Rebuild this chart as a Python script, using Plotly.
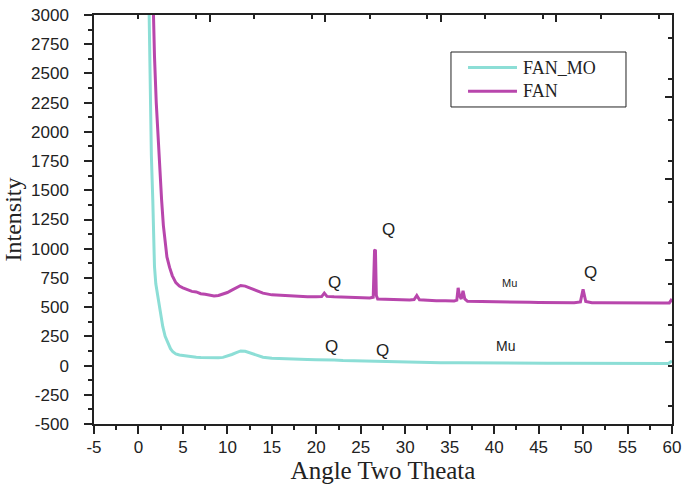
import plotly.graph_objects as go

# Diffraction pattern of FAN_MO (lower trace)
fan_mo_x = [1.1, 1.2, 1.31, 1.45, 1.61, 1.7, 1.8, 1.95, 2.1, 2.25, 2.4, 2.55, 2.73, 3.0, 3.3,
            3.6, 3.86, 4.2, 4.6, 5.0, 5.5, 6.0, 6.5, 7.0, 7.5, 8.0, 8.5, 9.0, 9.5, 10.0,
            10.5, 11.0, 11.5, 12.0, 12.5, 13.0, 13.5, 14.0, 15.0, 16.0, 17.0, 18.0, 19.0,
            20.0, 21.0, 22.0, 23.0, 24.0, 25.0, 26.0, 27.0, 28.0, 29.0, 30.0, 32.0, 34.0,
            36.0, 38.0, 40.0, 42.0, 44.0, 46.0, 48.0, 50.0, 52.0, 54.0, 56.0, 58.0, 59.6, 60.0]
fan_mo_y = [3500, 3000, 2270, 1800, 1420, 1100, 850, 700, 630, 580, 500, 410, 335, 250, 190,
            145, 118, 100, 90, 85, 80, 75, 72, 70, 68, 66, 65, 66, 70, 80,
            95, 110, 125, 122, 110, 95, 82, 72, 62, 58, 55, 54, 52,
            50, 52, 48, 44, 42, 40, 38, 36, 33, 31, 30, 27, 25,
            24, 22, 21, 20, 20, 19, 19, 18, 18, 18, 17, 17, 18, 40]

# Diffraction pattern of FAN (upper trace)
fan_x = [1.5, 1.65, 1.8, 2.0, 2.2, 2.4, 2.6, 2.8, 3.0, 3.2, 3.5, 3.8, 4.2, 4.6, 5.0, 5.5,
         6.0, 6.5, 7.0, 7.5, 8.0, 8.5, 9.0, 9.5, 10.0, 10.5, 11.0, 11.5, 12.0, 12.5,
         13.0, 13.5, 14.0, 15.0, 16.0, 17.0, 18.0, 19.0, 20.0, 20.6, 20.9, 21.2, 22.0,
         23.0, 24.0, 25.0, 26.0, 26.4, 26.55, 26.65, 26.75, 26.9, 27.5, 28.5, 29.5, 30.5,
         31.0, 31.3, 31.6, 32.5, 33.5, 34.5, 35.5, 35.8, 35.95, 36.1, 36.3, 36.5, 36.7,
         37.0, 38.0, 39.0, 40.0, 41.0, 42.0, 43.0, 44.0, 45.0, 46.0, 47.0, 48.0, 49.0,
         49.7, 50.0, 50.3, 51.0, 52.0, 53.0, 54.0, 55.0, 56.0, 57.0, 58.0, 59.0, 59.7, 60.0]
fan_y = [3600, 3000, 2650, 2250, 1950, 1700, 1420, 1200, 1030, 930, 840, 770, 710, 680, 665, 650,
         635, 630, 615, 610, 600, 595, 600, 610, 625, 645, 665, 685, 680, 665,
         645, 630, 620, 605, 600, 595, 592, 590, 588, 590, 620, 592, 588,
         585, 582, 580, 578, 585, 985, 990, 600, 570, 568, 565, 563, 562,
         565, 600, 563, 558, 555, 555, 553, 560, 665, 600, 570, 640, 570,
         550, 548, 545, 545, 545, 543, 542, 541, 540, 540, 540, 539, 538,
         545, 653, 548, 538, 537, 536, 536, 535, 535, 535, 535, 535, 536, 570]

# Phase labels: (text, x, y, font size)
fan_labels = [("Q", 21.99, 709, 17), ("Q", 28.10, 1166, 17), ("Mu", 41.70, 709, 11), ("Q", 50.89, 795, 17)]
fan_mo_labels = [("Q", 21.73, 162, 17), ("Q", 27.47, 133, 17), ("Mu", 41.22, 170, 14)]

series_names = ["FAN_MO", "FAN"]

x_ticks = [-5, 0, 5, 10, 15, 20, 25, 30, 35, 40, 45, 50, 55, 60]
y_ticks = [-500, -250, 0, 250, 500, 750, 1000, 1250, 1500, 1750, 2000, 2250, 2500, 2750, 3000]
x_range = [-5, 60]
y_range = [-500, 3000]

CYAN = "#8cded6"
MAGENTA = "#b846ac"
AXIS = "#222222"
SANS = "Liberation Sans, Arial, sans-serif"
SERIF = "Liberation Serif, Times New Roman, serif"
TICK_FONT = dict(family=SANS, size=17, color="#222222")
colors = [CYAN, MAGENTA]

fig = go.Figure()
fig.add_trace(go.Scatter(x=fan_mo_x, y=fan_mo_y, mode="lines", name=series_names[0],
                         line=dict(color=CYAN, width=3)))
# FAN sits on the overlaid top/right axes (same ranges) so the frame axes are drawn
fig.add_trace(go.Scatter(x=fan_x, y=fan_y, mode="lines", name=series_names[1],
                         xaxis="x2", yaxis="y2", line=dict(color=MAGENTA, width=3)))

for text, x, y, size in fan_labels + fan_mo_labels:
    fig.add_annotation(x=x, y=y, text=text, showarrow=False, xanchor="center", yanchor="middle",
                       font=dict(family=SANS, size=size, color="#222222"))

# Boxed key in the upper right of the plot area (paper coordinates)
fig.add_shape(type="rect", xref="paper", yref="paper", x0=0.6176, x1=0.9204, y0=0.7751, y1=0.9095,
              line=dict(color="#222222", width=1), fillcolor="white", layer="above")
for i, (name, color) in enumerate(zip(series_names, colors)):
    ypos = 0.8714 - i * 0.0577
    fig.add_shape(type="line", xref="paper", yref="paper", x0=0.6471, x1=0.7318, y0=ypos, y1=ypos,
                  line=dict(color=color, width=3), layer="above")
    fig.add_annotation(xref="paper", yref="paper", x=0.7395, y=ypos, text=name, showarrow=False,
                       xanchor="left", yanchor="middle",
                       font=dict(family=SERIF, size=18, color="#222222"))

frame = dict(showticklabels=False, showgrid=False, zeroline=False, showline=True,
             linecolor=AXIS, linewidth=1.5, ticks="inside", ticklen=7, tickwidth=1.5,
             tickcolor=AXIS, automargin=False)

fig.update_layout(
    width=685, height=489,
    margin=dict(l=94, r=13, t=15, b=65, autoexpand=False),
    paper_bgcolor="white", plot_bgcolor="white",
    showlegend=False,
    xaxis=dict(range=x_range, tickvals=x_ticks, ticktext=[str(v) for v in x_ticks],
               showgrid=False, zeroline=False, showline=True, linecolor=AXIS, linewidth=1.5,
               ticks="outside", ticklen=8, tickwidth=1.5, tickcolor=AXIS, automargin=False,
               minor=dict(dtick=2.5, tick0=-5, ticks="outside", ticklen=4, tickwidth=1.5, tickcolor=AXIS),
               tickfont=TICK_FONT, ticklabelstandoff=-1,
               title=dict(text="Angle Two Theata", font=dict(family=SERIF, size=25, color="#222222"),
                          standoff=4)),
    yaxis=dict(range=y_range, tickvals=y_ticks, ticktext=[str(v) for v in y_ticks],
               showgrid=False, zeroline=False, showline=True, linecolor=AXIS, linewidth=1.5,
               ticks="outside", ticklen=8, tickwidth=1.5, tickcolor=AXIS, automargin=False,
               minor=dict(dtick=125, tick0=-500, ticks="outside", ticklen=4, tickwidth=1.5, tickcolor=AXIS),
               tickfont=TICK_FONT, ticklabelstandoff=12,
               title=dict(text="Intensity", font=dict(family=SERIF, size=24, color="#222222"),
                          standoff=6)),
    xaxis2=dict(overlaying="x", side="top", anchor="y2", range=x_range, tick0=-5, dtick=13,
                minor=dict(dtick=6.5, ticks="inside", ticklen=4, tickwidth=1.5, tickcolor=AXIS),
                **frame),
    yaxis2=dict(overlaying="y", side="right", anchor="x2", range=y_range, tick0=-500, dtick=700,
                minor=dict(dtick=350, ticks="inside", ticklen=4, tickwidth=1.5, tickcolor=AXIS),
                **frame),
)

fig.write_html("out.html")
